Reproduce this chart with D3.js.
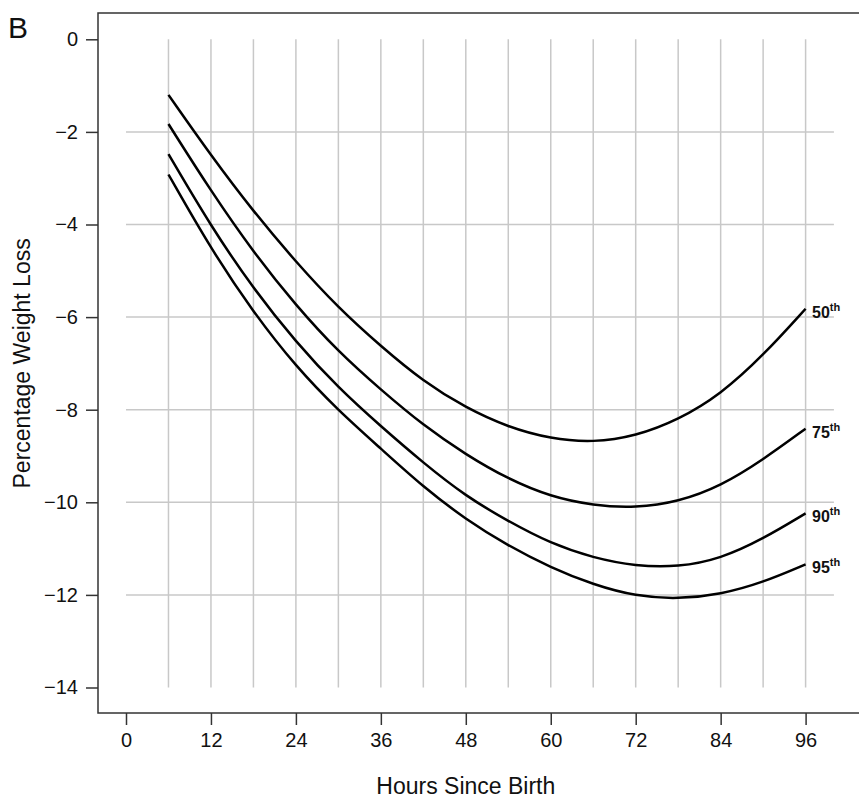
<!DOCTYPE html>
<html>
<head>
<meta charset="utf-8">
<script src="https://cdn.jsdelivr.net/npm/d3@7"></script>
<style>
  body { margin: 0; background: #fff; }
  svg { font-family: 'Liberation Sans', Arial, Helvetica, sans-serif; }
</style>
</head>
<body>
<div id="chart"></div>
<script>
const width = 859;
const height = 799;

const hours = [6, 12, 18, 24, 30, 36, 42, 48, 54, 60, 66, 72, 78, 84, 90, 96];
const p50 = [-1.2, -2.51, -3.72, -4.81, -5.8, -6.63, -7.39, -7.96, -8.38, -8.63, -8.71, -8.57, -8.22, -7.67, -6.83, -5.82];
const p75 = [-1.83, -3.28, -4.6, -5.75, -6.75, -7.57, -8.34, -8.97, -9.5, -9.88, -10.07, -10.12, -9.99, -9.65, -9.08, -8.41];
const p90 = [-2.48, -4.04, -5.39, -6.54, -7.53, -8.36, -9.15, -9.87, -10.41, -10.89, -11.2, -11.38, -11.4, -11.22, -10.79, -10.24];
const p95 = [-2.92, -4.53, -5.9, -7.07, -8.02, -8.84, -9.67, -10.37, -10.94, -11.41, -11.78, -12.03, -12.09, -11.99, -11.73, -11.34];

const seriesLabels = ['50', '75', '90', '95'];
const xTicks = [0, 12, 24, 36, 48, 60, 72, 84, 96];
const yTicks = [0, -2, -4, -6, -8, -10, -12, -14];
const xGrid = [6, 12, 18, 24, 30, 36, 42, 48, 54, 60, 66, 72, 78, 84, 90, 96];
const yGrid = [-2, -4, -6, -8, -10, -12];

const series = [p50, p75, p90, p95].map((vals, i) => ({
  label: seriesLabels[i],
  values: hours.map((h, j) => ({ h, v: vals[j] })),
}));

const x = d3.scaleLinear().domain([0, 96]).range([126, 805.6]);
const y = d3.scaleLinear().domain([0, -14]).range([39.3, 687.5]);

const box = { left: 98, top: 13, bottom: 713, right: 900 };
const ink = '#333';
const gridColor = '#c8c8c8';

const svg = d3.select('#chart').append('svg').attr('width', width).attr('height', height);

// grid
svg.append('g')
  .selectAll('line')
  .data(xGrid)
  .join('line')
  .attr('x1', (d) => x(d))
  .attr('x2', (d) => x(d))
  .attr('y1', y(0))
  .attr('y2', y(-14))
  .attr('stroke', gridColor)
  .attr('stroke-width', 1.5);

svg.append('g')
  .selectAll('line')
  .data(yGrid)
  .join('line')
  .attr('x1', x(0))
  .attr('x2', x(100))
  .attr('y1', (d) => y(d))
  .attr('y2', (d) => y(d))
  .attr('stroke', gridColor)
  .attr('stroke-width', 1.5);

// box
svg.append('rect')
  .attr('x', box.left)
  .attr('y', box.top)
  .attr('width', box.right - box.left)
  .attr('height', box.bottom - box.top)
  .attr('fill', 'none')
  .attr('stroke', ink)
  .attr('stroke-width', 1.5);

// axes
const xAxis = d3.axisBottom(x).tickValues(xTicks).tickSize(12).tickPadding(8);
const yAxis = d3.axisLeft(y).tickValues(yTicks).tickSize(12).tickPadding(8)
  .tickFormat((d) => (d < 0 ? '\u2212' + Math.abs(d) : d));

const gx = svg.append('g').attr('transform', `translate(0, ${box.bottom})`).call(xAxis);
const gy = svg.append('g').attr('transform', `translate(${box.left}, 0)`).call(yAxis);

[gx, gy].forEach((g) => {
  g.select('.domain').remove();
  g.selectAll('.tick line').attr('stroke', ink).attr('stroke-width', 1.5);
  g.selectAll('.tick text')
    .attr('fill', '#111')
    .style('font-size', '20px')
    .style('font-family', "'Liberation Sans', Arial, sans-serif");
});

// axis titles
svg.append('text')
  .attr('x', x(48))
  .attr('y', 794)
  .attr('text-anchor', 'middle')
  .attr('fill', '#111')
  .style('font-size', '23px')
  .text('Hours Since Birth');

svg.append('text')
  .attr('transform', 'rotate(-90)')
  .attr('x', -y(-7))
  .attr('y', 30)
  .attr('text-anchor', 'middle')
  .attr('fill', '#111')
  .style('font-size', '23px')
  .text('Percentage Weight Loss');

svg.append('text')
  .attr('x', 8)
  .attr('y', 38)
  .attr('fill', '#111')
  .style('font-size', '30px')
  .text('B');

// curves
const line = d3.line()
  .x((d) => x(d.h))
  .y((d) => y(d.v))
  .curve(d3.curveBasis);

svg.append('g')
  .selectAll('path')
  .data(series)
  .join('path')
  .attr('d', (d) => line(d.values))
  .attr('fill', 'none')
  .attr('stroke', '#000')
  .attr('stroke-width', 2.5);

// end labels
const labels = svg.append('g')
  .selectAll('text')
  .data(series)
  .join('text')
  .attr('x', 812)
  .attr('y', (d) => y(d.values[d.values.length - 1].v) + 9)
  .attr('fill', '#111')
  .style('font-size', '16px')
  .style('font-weight', 'bold');

labels.append('tspan').text((d) => d.label);
labels.append('tspan')
  .attr('dy', -7)
  .style('font-size', '11px')
  .text('th');
</script>
</body>
</html>
